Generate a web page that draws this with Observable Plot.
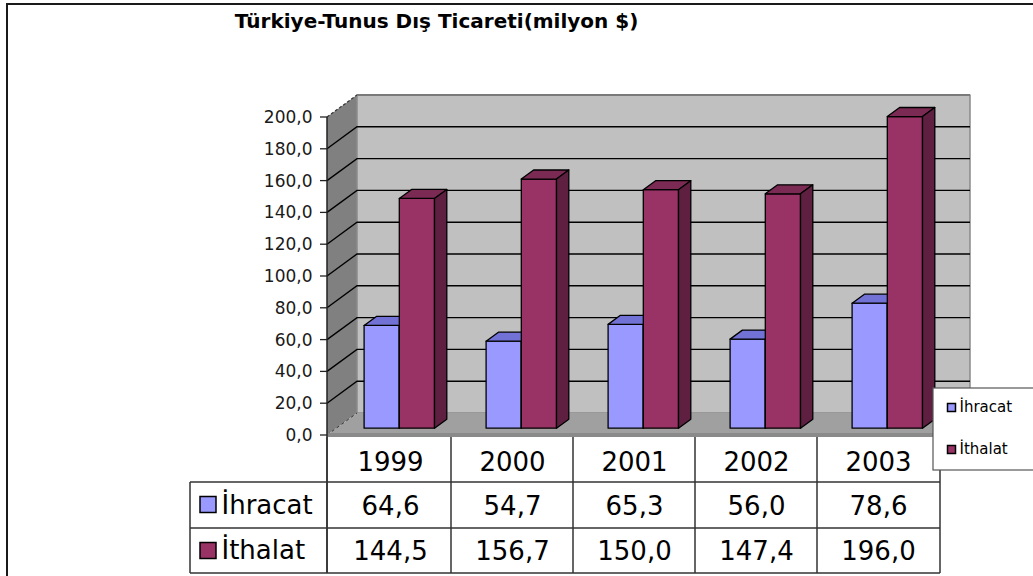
<!DOCTYPE html>
<html><head><meta charset="utf-8">
<script src="https://cdn.jsdelivr.net/npm/d3@7"></script>
<script src="https://cdn.jsdelivr.net/npm/@observablehq/plot@0.6"></script>
<style>
html,body{margin:0;padding:0;background:#fff;overflow:hidden;width:1033px;height:576px}
#wrap{position:relative;width:1033px;height:576px;overflow:hidden}
#frame{position:absolute;left:6px;top:3px;width:1100px;height:700px;border-left:2px solid #1a1a1a;border-top:2px solid #1a1a1a}
#title{position:absolute;left:0;width:873px;top:11px;line-height:20px;text-align:center;font-family:"DejaVu Sans";font-weight:bold;font-size:20px;color:#000;white-space:nowrap}
#chart{position:absolute;left:0;top:0}
</style></head><body>
<div id="wrap"><div id="frame"></div><div id="chart"></div><div id="title"></div></div>
<script>
// ---- data ----
const title = "Türkiye-Tunus Dış Ticareti(milyon $)";
const years = ["1999", "2000", "2001", "2002", "2003"];
const ihracat = [64.6, 54.7, 65.3, 56.0, 78.6];
const ithalat = [144.5, 156.7, 150.0, 147.4, 196.0];
const seriesNames = ["İhracat", "İthalat"];
const yTicks = [0, 20, 40, 60, 80, 100, 120, 140, 160, 180, 200];

// ---- styling ----
const FONT = "DejaVu Sans";
const D = [30, -22];          // full depth of the 3D box
const F0 = 0.31, F1 = 0.72;   // bar depth (front/back fraction)
const BAR_INSET = 25.8;
const COLORS = {
  front: ["#9999ff", "#993366"],
  top:   ["#7272d6", "#7a2a53"],
  side:  ["#5d5db4", "#5e1f40"]
};
const fmt = v => v.toFixed(1).replace(".", ",");
const seriesValues = [ihracat, ithalat];
const rows = [];
years.forEach((y, i) => seriesNames.forEach((s, k) => rows.push({year: y, series: k, value: seriesValues[k][i]})));

document.getElementById("title").textContent = title;

function scene(index, scales, values, dims) {
  const x = scales.x, y = scales.y;
  const bw = typeof x.bandwidth === "function" ? x.bandwidth() : (x(years[1]) - x(years[0]));
  const x0 = dims.marginLeft, x1 = dims.width - dims.marginRight;
  const yTop = y(200), yBot = y(0);
  const [dx, dy] = D;
  const g = d3.create("svg:g");
  const pts = p => p.map(q => q.join(",")).join(" ");
  const poly = (p, fill, stroke, sw) => g.append("polygon").attr("points", pts(p))
      .attr("fill", fill).attr("stroke", stroke || "none").attr("stroke-width", sw || 1).attr("stroke-linejoin", "round");
  const line = (p, stroke, sw, dash) => {
    const l = g.append("polyline").attr("points", pts(p)).attr("fill", "none")
      .attr("stroke", stroke).attr("stroke-width", sw);
    if (dash) l.attr("stroke-dasharray", dash);
    return l;
  };
  // walls
  poly([[x0, yTop], [x0 + dx, yTop + dy], [x0 + dx, yBot + dy], [x0, yBot]], "#808080");
  poly([[x0 + dx, yTop + dy], [x1 + dx, yTop + dy], [x1 + dx, yBot + dy], [x0 + dx, yBot + dy]], "#c0c0c0", "#8a8a8a", 1.5);
  poly([[x0, yBot], [x0 + dx, yBot + dy], [x1 + dx, yBot + dy], [x1, yBot]], "#a0a0a0");
  // gridlines
  for (const v of yTicks) {
    const yy = y(v);
    if (v === 0) {
      line([[x0, yy], [x0 + dx, yy + dy]], "#333", 1, "3,3");
    } else if (v === 200) {
      line([[x0, yy], [x0 + dx, yy + dy]], "#333", 1.2, "3,2");
      line([[x0 + dx, yy + dy], [x1 + dx, yy + dy]], "#7a7a7a", 2);
    } else {
      line([[x0, yy], [x0 + dx, yy + dy], [x1 + dx, yy + dy]], "#000", 1.4);
    }
  }
  // floor front thickness
  g.append("rect").attr("x", x0).attr("y", yBot - 2).attr("width", x1 - x0).attr("height", 4).attr("fill", "#8a8a8a");
  // bars
  const ox = dx * F0, oy = dy * F0, bx = dx * F1, by = dy * F1;
  for (const r of rows) {
    const s = r.series;
    const xl = x(r.year) + (s === 0 ? BAR_INSET : bw / 2);
    const xr = x(r.year) + (s === 0 ? bw / 2 : bw - BAR_INSET);
    const yt = y(r.value), yb = y(0);
    poly([[xl + ox, yt + oy], [xr + ox, yt + oy], [xr + ox, yb + oy], [xl + ox, yb + oy]], COLORS.front[s], "#000", 1.3);
    poly([[xl + ox, yt + oy], [xl + bx, yt + by], [xr + bx, yt + by], [xr + ox, yt + oy]], COLORS.top[s], "#000", 1.3);
    poly([[xr + ox, yt + oy], [xr + bx, yt + by], [xr + bx, yb + by], [xr + ox, yb + oy]], COLORS.side[s], "#000", 1.3);
  }
  // y axis + ticks
  const tTop = yBot + 2, r1 = yBot + 47, r2 = yBot + 93, tBot = yBot + 138;
  line([[x0, yTop], [x0, tBot]], "#222", 1.5);
  for (const v of yTicks) line([[x0 - 7, y(v)], [x0, y(v)]], "#222", 1.3);
  // data table grid
  const tx = [x0, ...years.slice(1).map(c => x(c)), x1];
  for (const xx of tx) line([[xx, tTop], [xx, tBot]], "#333", 1.5);
  line([[x0 - 137, r1], [x0 - 137, tBot]], "#333", 1.5);
  for (const yy of [r1, r2, tBot]) line([[x0 - 137, yy], [x1, yy]], "#333", 1.5);
  // table legend keys
  [r1, r2].forEach((yy, k) => {
    g.append("rect").attr("x", x0 - 127).attr("y", (yy + 22.5) - 8).attr("width", 16).attr("height", 16)
      .attr("fill", COLORS.front[k]).attr("stroke", "#000").attr("stroke-width", 1.5);
  });
  // legend box
  g.append("rect").attr("x", x1 - 7).attr("y", yBot - 47).attr("width", 130).attr("height", 82)
    .attr("fill", "#fff").attr("stroke", "#555").attr("stroke-width", 1.2);
  [yBot - 27, yBot + 15].forEach((yy, k) => {
    g.append("rect").attr("x", x1 + 7.5).attr("y", yy - 4.5).attr("width", 8).attr("height", 8)
      .attr("fill", COLORS.front[k]).attr("stroke", "#000").attr("stroke-width", 1.5);
  });
  return g.node();
}

const T = {fill: "#000", lineAnchor: "middle"};
const plot = Plot.plot({
  width: 1033,
  height: 576,
  marginLeft: 327,
  marginRight: 93,
  marginTop: 117,
  marginBottom: 141,
  x: {type: "band", domain: years, padding: 0, axis: null},
  y: {domain: [0, 200], axis: null},
  style: {fontFamily: FONT, background: "transparent", color: "#000"},
  marks: [
    scene,
    Plot.text(yTicks, {y: d => d, text: fmt, frameAnchor: "left", dx: -15, textAnchor: "end", fontSize: 17, fill: "#1a1a1a", lineAnchor: "middle"}),
    Plot.text(years, {...T, x: d => d, text: d => d, frameAnchor: "bottom", dy: 27, fontSize: 26}),
    Plot.text(rows.filter(r => r.series === 0), {...T, x: "year", text: d => fmt(d.value), frameAnchor: "bottom", dy: 71, fontSize: 26}),
    Plot.text(rows.filter(r => r.series === 1), {...T, x: "year", text: d => fmt(d.value), frameAnchor: "bottom", dy: 116, fontSize: 26}),
    Plot.text([seriesNames[0]], {...T, text: d => d, frameAnchor: "bottom-left", dx: -106, dy: 70, textAnchor: "start", fontSize: 26}),
    Plot.text([seriesNames[1]], {...T, text: d => d, frameAnchor: "bottom-left", dx: -106, dy: 115, textAnchor: "start", fontSize: 26}),
    Plot.text([seriesNames[0]], {...T, text: d => d, frameAnchor: "bottom-right", dx: 19, dy: -28, textAnchor: "start", fontSize: 15}),
    Plot.text([seriesNames[1]], {...T, text: d => d, frameAnchor: "bottom-right", dx: 19, dy: 14, textAnchor: "start", fontSize: 15})
  ]
});
document.getElementById("chart").appendChild(plot);
</script>
</body></html>
